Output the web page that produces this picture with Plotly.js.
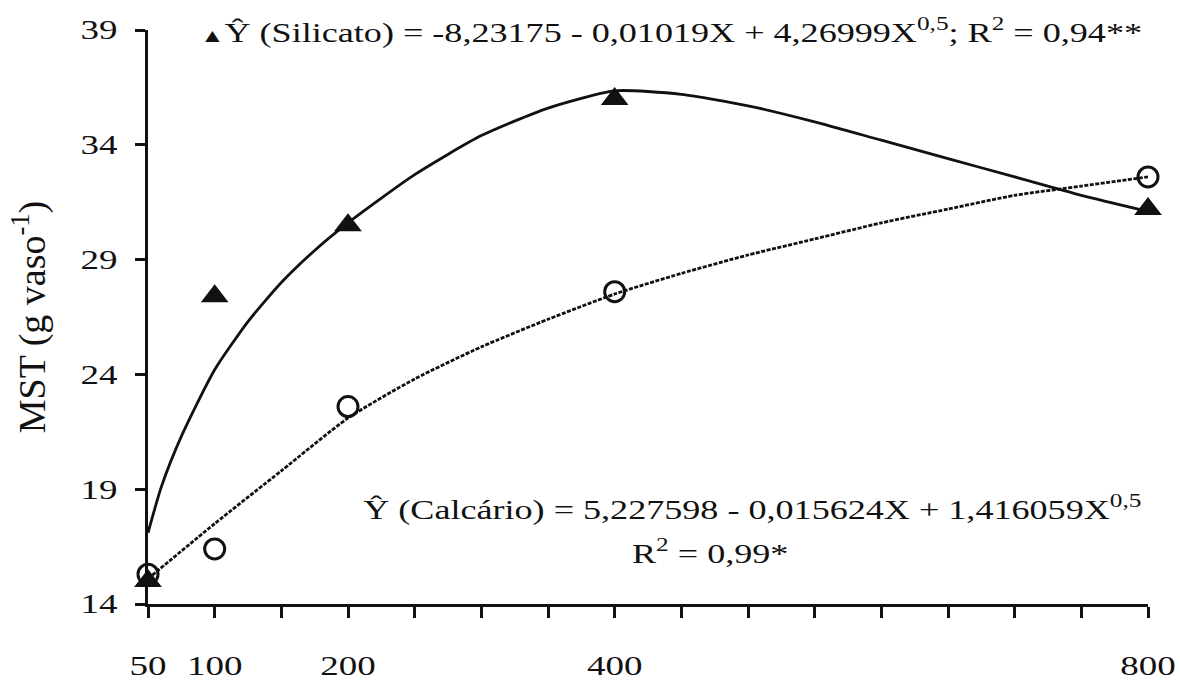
<!DOCTYPE html>
<html>
<head>
<meta charset="utf-8">
<script src="https://cdn.plot.ly/plotly-3.0.1.min.js"></script>
<style>
  html, body { margin: 0; padding: 0; background: #ffffff; }
  #chart { width: 1180px; height: 681px; }
</style>
</head>
<body>
<div id="chart"></div>
<script>
// Doses (X) and observed means
const doses = [50, 100, 200, 400, 800];
const silicatoObs = [15.0, 27.4, 30.5, 36.0, 31.2];
const calcarioObs = [15.3, 16.4, 22.6, 27.6, 32.6];

// Fitted curves
const silicatoFitX = [50, 60, 75, 100, 125, 150, 175, 200, 250, 300, 350, 400, 450, 500, 550, 600, 650, 700, 750, 800];
const silicatoFitY = [17.1, 19.1, 21.3, 24.2, 26.3, 28.0, 29.4, 30.6, 32.7, 34.4, 35.6, 36.35, 36.2, 35.7, 35.0, 34.2, 33.4, 32.6, 31.8, 31.1];
const calcarioFitX = [50, 100, 150, 200, 250, 300, 350, 400, 450, 500, 550, 600, 650, 700, 750, 800];
const calcarioFitY = [15.1, 17.5, 19.8, 22.1, 23.8, 25.2, 26.4, 27.5, 28.4, 29.2, 29.9, 30.6, 31.2, 31.8, 32.2, 32.6];

// Axis ticks
const xLabelVals = [50, 100, 200, 400, 800];
const xLabelText = ['50', '100', '200', '400', '800'];
const xMinorVals = [150, 250, 300, 350, 450, 500, 550, 600, 650, 700, 750];
const yTickVals = [14, 19, 24, 29, 34, 39];

// Texts
const yTitle = 'MST (g vaso<sup>-1</sup>)';
const silicatoEq = '<span style="font-size:19px">▲</span>Ŷ (Silicato) = -8,23175 - 0,01019X + 4,26999X<sup>0,5</sup>; R<sup>2</sup> = 0,94**';
const calcarioEq = 'Ŷ (Calcário) = 5,227598 - 0,015624X + 1,416059X<sup>0,5</sup>';
const calcarioR2 = 'R<sup>2</sup> = 0,99*';

const ink = '#111111';
const font = "'Liberation Serif', 'Times New Roman', serif";

const traces = [
  {
    x: silicatoFitX, y: silicatoFitY, type: 'scatter', mode: 'lines',
    line: { color: ink, width: 2.8, shape: 'spline', smoothing: 0.6 },
    hoverinfo: 'skip', showlegend: false, cliponaxis: false
  },
  {
    x: calcarioFitX, y: calcarioFitY, type: 'scatter', mode: 'lines',
    line: { color: ink, width: 2.8, shape: 'spline', smoothing: 0.6, dash: '4px,1.5px' },
    hoverinfo: 'skip', showlegend: false, cliponaxis: false
  },
  {
    x: doses, y: silicatoObs, type: 'scatter', mode: 'markers', name: 'Silicato',
    marker: { symbol: 'triangle-up', size: 24, color: ink, line: { width: 0 } },
    showlegend: false, cliponaxis: false
  },
  {
    x: doses, y: calcarioObs, type: 'scatter', mode: 'markers', name: 'Calcário',
    marker: { symbol: 'circle-open', size: 20, color: ink, line: { width: 3, color: ink } },
    showlegend: false, cliponaxis: false
  }
];

const layout = {
  width: 1180, height: 681,
  margin: { l: 148, r: 32, t: 30, b: 77, pad: 0 },
  paper_bgcolor: '#ffffff', plot_bgcolor: '#ffffff',
  font: { family: font, size: 27, color: ink },
  showlegend: false,
  xaxis: {
    range: [50, 800], autorange: false,
    tickmode: 'array', tickvals: xLabelVals, ticktext: xLabelText,
    ticks: 'outside', ticklen: 11, tickwidth: 3, tickcolor: ink,
    minor: { tickmode: 'array', tickvals: xMinorVals, ticks: 'outside', ticklen: 11, tickwidth: 3, tickcolor: ink, showgrid: false },
    showline: true, linewidth: 3, linecolor: ink,
    showgrid: false, zeroline: false,
    ticklabelstandoff: 25,
    tickfont: { family: font, size: 27, color: ink }
  },
  yaxis: {
    range: [14, 39], autorange: false,
    tickmode: 'array', tickvals: yTickVals,
    ticks: 'outside', ticklen: 10, tickwidth: 3, tickcolor: ink,
    showline: true, linewidth: 3, linecolor: ink,
    showgrid: false, zeroline: false,
    ticklabelstandoff: 12,
    tickfont: { family: font, size: 27, color: ink },
    title: { text: yTitle, font: { family: font, size: 38, color: ink }, standoff: 34 }
  },
  annotations: [
    { xref: 'paper', yref: 'paper', x: 0.05, y: 1.0, xanchor: 'left', yanchor: 'middle',
      text: silicatoEq, showarrow: false, font: { family: font, size: 28, color: ink } },
    { xref: 'paper', yref: 'paper', x: 0.213, y: 0.168, xanchor: 'left', yanchor: 'middle',
      text: calcarioEq, showarrow: false, font: { family: font, size: 28, color: ink } },
    { xref: 'paper', yref: 'paper', x: 0.482, y: 0.092, xanchor: 'left', yanchor: 'middle',
      text: calcarioR2, showarrow: false, font: { family: font, size: 28, color: ink } }
  ]
};

// The reference typesetting is horizontally wide; widen text glyphs about an anchor.
function widenText(root, selector, factor, anchor) {
  root.querySelectorAll(selector).forEach(function (el) {
    const bb = el.getBBox();
    if (!bb.width) return;
    const a = anchor === 'start' ? bb.x : (anchor === 'end' ? bb.x + bb.width : bb.x + bb.width / 2);
    const prev = el.getAttribute('transform') || '';
    el.setAttribute('transform', prev + ' translate(' + (a * (1 - factor)) + ',0) scale(' + factor + ',1)');
  });
}

Plotly.newPlot('chart', traces, layout, { staticPlot: true, displayModeBar: false }).then(function (gd) {
  widenText(gd, '.ytick text', 1.37, 'end');
  widenText(gd, '.xtick text', 1.37, 'middle');
  widenText(gd, '.annotation-text', 1.29, 'start');
});
</script>
</body>
</html>
